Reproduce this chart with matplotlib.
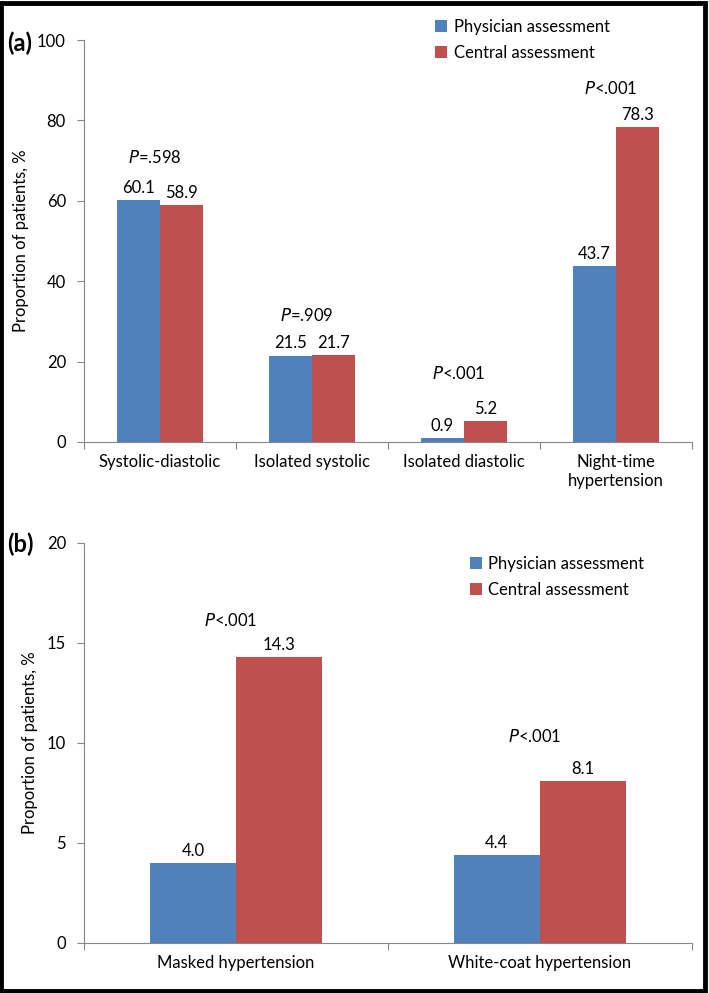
import matplotlib
matplotlib.use('Agg')
import matplotlib.pyplot as plt
import numpy as np
from matplotlib.patches import Rectangle

plt.rcParams['font.family'] = ['Lato', 'DejaVu Sans']

# panel (a)
cats_a = ['Systolic-diastolic', 'Isolated systolic', 'Isolated diastolic', 'Night-time\nhypertension']
phys_a = [60.1, 21.5, 0.9, 43.7]
cent_a = [58.9, 21.7, 5.2, 78.3]
pval_a = ['=.598', '=.909', '<.001', '<.001']

# panel (b)
cats_b = ['Masked hypertension', 'White-coat hypertension']
phys_b = [4.0, 4.4]
cent_b = [14.3, 8.1]
pval_b = ['<.001', '<.001']

blue = '#4F81BD'
red = '#C0504D'
grey = '#868686'
fs = 12

fig = plt.figure(figsize=(7.09, 9.93), dpi=100)
fig.patch.set_facecolor('white')
fig.patches.append(Rectangle((0.002, 0.002), 0.992, 0.995, transform=fig.transFigure,
                             fill=False, edgecolor='black', linewidth=3.5))

ax_a = fig.add_axes([0.1185, 0.5549, 0.8575, 0.4048])
ax_b = fig.add_axes([0.1185, 0.0504, 0.8575, 0.4028])


def draw(ax, cats, phys, cent, pvals, ymax, ystep, p_off):
    x = np.arange(len(cats))
    w = 0.284
    b1 = ax.bar(x - w / 2, phys, w, color=blue, label='Physician assessment')
    b2 = ax.bar(x + w / 2, cent, w, color=red, label='Central assessment')
    for bars, vals in ((b1, phys), (b2, cent)):
        for r, v in zip(bars, vals):
            ax.annotate(f'{v:.1f}', (r.get_x() + r.get_width() / 2, v),
                        xytext=(0, 3), textcoords='offset points',
                        ha='center', va='bottom', fontsize=fs)
    for i, p in enumerate(pvals):
        top = max(phys[i], cent[i])
        ax.annotate(r'$\it{P}$' + p, (x[i], top), xytext=(-4, p_off[i]), textcoords='offset points',
                    ha='center', va='bottom', fontsize=fs)
    ax.set_xlim(-0.5, len(cats) - 0.5)
    ax.set_ylim(0, ymax)
    ax.set_yticks(np.arange(0, ymax + 1, ystep))
    ax.set_xticks(np.arange(len(cats) + 1) - 0.5)
    ax.set_xticklabels([])
    ax.set_xticks(x, minor=True)
    ax.set_xticklabels(cats, minor=True)
    ax.tick_params(axis='x', which='major', length=5, color=grey, direction='out')
    ax.tick_params(axis='x', which='minor', length=0, pad=9, labelsize=fs)
    ax.tick_params(axis='y', length=5, color=grey, pad=8, labelsize=fs)
    for s in ('top', 'right'):
        ax.spines[s].set_visible(False)
    for s in ('left', 'bottom'):
        ax.spines[s].set_color(grey)
    ax.set_ylabel('Proportion of patients, %', fontsize=fs, labelpad=6)


draw(ax_a, cats_a, phys_a, cent_a, pval_a, 100, 20, [25, 22, 28, 22])
draw(ax_b, cats_b, phys_b, cent_b, pval_b, 20, 5, [20, 26])

ax_a.legend(loc='upper left', bbox_to_anchor=(0.553, 1.09), frameon=False, fontsize=fs,
            handlelength=0.7, handleheight=0.7, handletextpad=0.4, labelspacing=0.6)
ax_b.legend(loc='upper left', bbox_to_anchor=(0.61, 1.005), frameon=False, fontsize=fs,
            handlelength=0.7, handleheight=0.7, handletextpad=0.4, labelspacing=0.6)

fig.text(0.010, 0.956, '(a)', fontsize=17, fontweight='bold', va='center')
fig.text(0.010, 0.452, '(b)', fontsize=17, fontweight='bold', va='center')

fig.savefig('out.png', dpi=100)
